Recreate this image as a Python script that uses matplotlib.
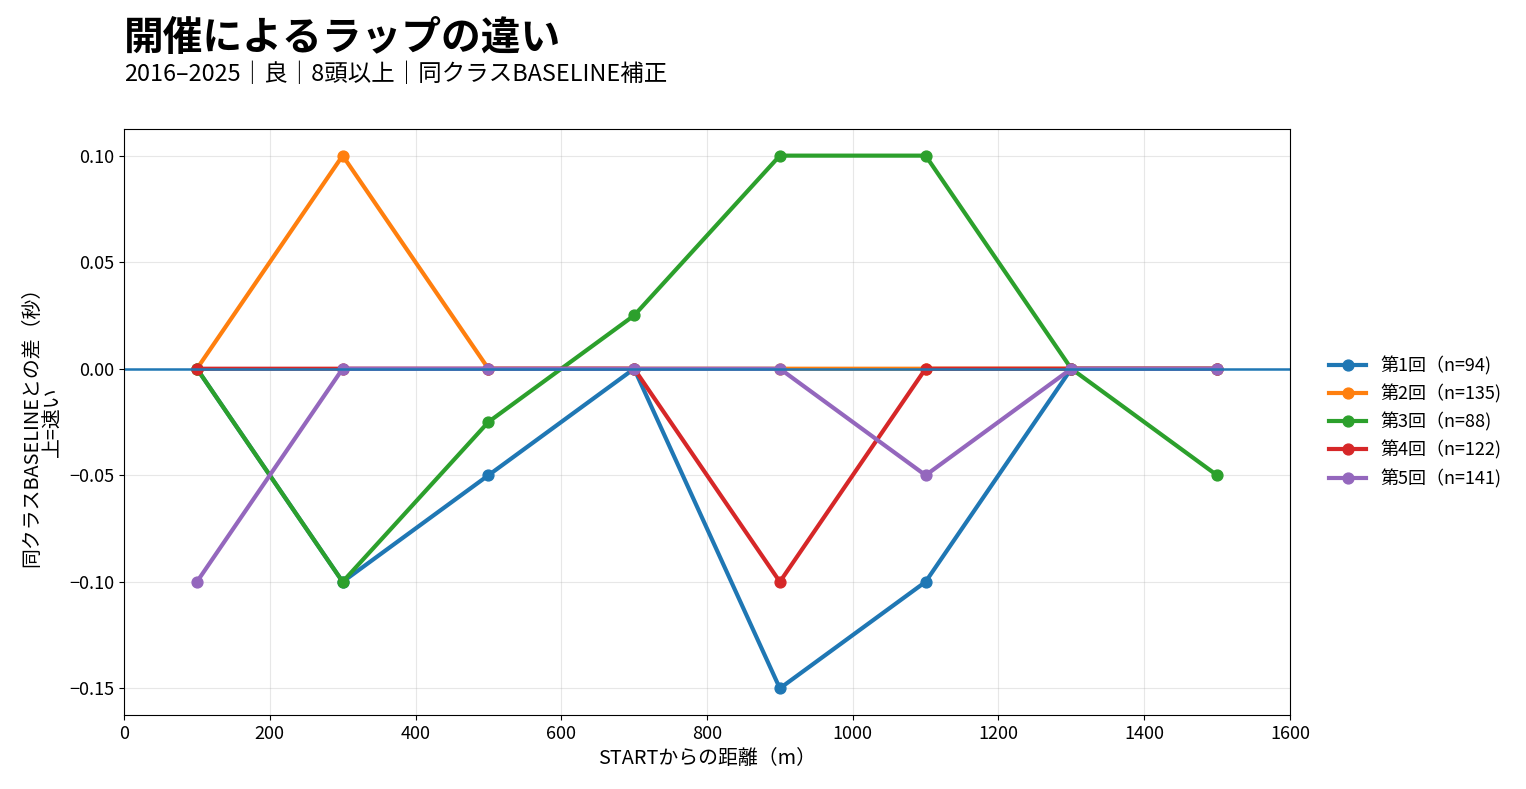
import matplotlib
matplotlib.use('Agg')
import matplotlib.pyplot as plt

plt.rcParams['font.family'] = ['Noto Sans CJK JP', 'DejaVu Sans']
plt.rcParams['axes.unicode_minus'] = True
plt.rcParams['xtick.labelsize'] = 13
plt.rcParams['ytick.labelsize'] = 13

# データ（STARTからの距離ごとのBASELINEとの差）
distances = [100, 300, 500, 700, 900, 1100, 1300, 1500]
labels = ['第1回（n=94)', '第2回（n=135)', '第3回（n=88)', '第4回（n=122)', '第5回（n=141)']
kai1 = [0.0, -0.10, -0.05, 0.0, -0.15, -0.10, 0.0, 0.0]
kai2 = [0.0, 0.10, 0.0, 0.0, 0.0, 0.0, 0.0, 0.0]
kai3 = [0.0, -0.10, -0.025, 0.025, 0.10, 0.10, 0.0, -0.05]
kai4 = [0.0, 0.0, 0.0, 0.0, -0.10, 0.0, 0.0, 0.0]
kai5 = [-0.10, 0.0, 0.0, 0.0, 0.0, -0.05, 0.0, 0.0]
series = [kai1, kai2, kai3, kai4, kai5]

fig = plt.figure(figsize=(15.26, 7.89), dpi=100)
ax = fig.add_axes([0.0813, 0.0938, 0.764, 0.7427])

for vals, lab in zip(series, labels):
    ax.plot(distances, vals, marker='o', linewidth=3, markersize=7.8, label=lab)

# 基準線
ax.axhline(0, color='#1f77b4', linewidth=1.8)

ax.set_xlim(0, 1600)
ax.grid(True, alpha=0.3)
ax.set_xlabel('STARTからの距離（m）', fontsize=14.3)
ax.set_ylabel('同クラスBASELINEとの差（秒）\n上=速い', fontsize=14.3, linespacing=1.05)

ax.legend(loc='center left', bbox_to_anchor=(1.02, 0.5), frameon=False, fontsize=13)

fig.text(0.0813, 0.936, '開催によるラップの違い', fontsize=28.6, fontweight='bold', ha='left', va='baseline')
fig.text(0.0813, 0.897, '2016–2025｜良｜8頭以上｜同クラスBASELINE補正', fontsize=16.9, ha='left', va='baseline')

fig.savefig('out.png', dpi=100)
